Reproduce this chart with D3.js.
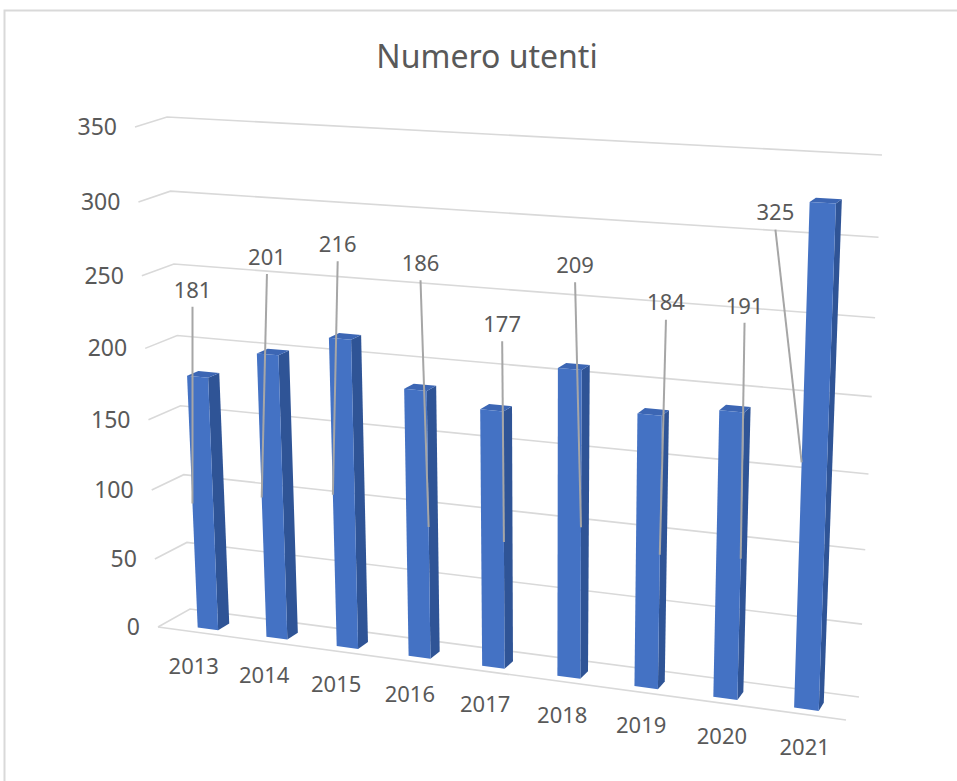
<!DOCTYPE html>
<html>
<head>
<meta charset="utf-8">
<script src="https://cdn.jsdelivr.net/npm/d3@7"></script>
<style>
  body { margin: 0; background: #fff; }
  text { font-family: "Noto Sans", "Open Sans", sans-serif; fill: #595959; }
</style>
</head>
<body>
<svg id="chart" width="957" height="781"></svg>
<script>
// data
const years = ["2013", "2014", "2015", "2016", "2017", "2018", "2019", "2020", "2021"]
const utenti = [181, 201, 216, 186, 177, 209, 184, 191, 325]
const yTicks = [0, 50, 100, 150, 200, 250, 300, 350]

// where the moved data labels sit (value level, px shift, leader side)
const labelLevel = [241, 267, 279, 270, 234, 276, 256, 258, 319]
const labelDx = [-1.5, 2.5, 0, 7, 11, 5, 15, 10.5, -47]
const leaderSide = ["l", "l", "l", "r", "r", "r", "r", "r", "l"]

const svg = d3.select("#chart")

// square -> quad homography
function quadMap(p) {
    let [x0, y0] = p[0], [x1, y1] = p[1], [x2, y2] = p[2], [x3, y3] = p[3]
    let sx = x0 - x1 + x2 - x3, sy = y0 - y1 + y2 - y3
    let dx1 = x1 - x2, dx2 = x3 - x2, dy1 = y1 - y2, dy2 = y3 - y2
    let den = dx1 * dy2 - dx2 * dy1
    let g = (sx * dy2 - dx2 * sy) / den
    let h = (dx1 * sy - sx * dy1) / den
    let a = x1 - x0 + g * x1, b = x3 - x0 + h * x3, c = x0
    let d = y1 - y0 + g * y1, e = y3 - y0 + h * y3, f = y0
    return function (u, v) {
        let q = g * u + h * v + 1
        return [(a * u + b * v + c) / q, (d * u + e * v + f) / q]
    }
}

// walls: bottom-left, bottom-right, top-right, top-left
const backWall = quadMap([[190, 609], [859, 697], [882, 155], [167, 117]])
const frontWall = quadMap([[158, 627], [846, 720], [866, 166], [135, 127]])

const y = d3.scaleLinear().domain([0, 350]).range([0, 1])
const x = d3.scaleBand().domain(years).range([0.02, 0.993]).paddingInner(0.7).paddingOuter(0.3)

function project(u, val, w) {
    let f = frontWall(u, y(val)), b = backWall(u, y(val))
    return [f[0] + (b[0] - f[0]) * w, f[1] + (b[1] - f[1]) * w]
}

// border
svg.append("rect")
    .attr("x", 4.5).attr("y", 10.5)
    .attr("width", 970).attr("height", 790)
    .attr("fill", "#fff")
    .attr("stroke", "#d9d9d9")
    .attr("stroke-width", 2)

// title
svg.append("text")
    .attr("x", 487).attr("y", 68)
    .attr("text-anchor", "middle")
    .style("font-size", "32px")
    .text("Numero utenti")

// gridlines: side wall + back wall
const grid = svg.append("g")
    .attr("fill", "none")
    .attr("stroke", "#d9d9d9")
    .attr("stroke-width", 1.6)

yTicks.forEach(t => {
    let pts = [project(0, t, 0), project(0, t, 1), project(1, t, 1)]
    grid.append("path").attr("d", d3.line()(pts))
})
// floor front edge
grid.append("path").attr("d", d3.line()([project(0, 0, 0), project(1, 0, 0)]))

// y axis labels
svg.append("g").selectAll("text")
    .data(yTicks)
    .enter()
    .append("text")
    .attr("x", d => project(0, d, 0)[0] - 18)
    .attr("y", d => project(0, d, 0)[1])
    .attr("dy", ".35em")
    .attr("text-anchor", "end")
    .style("font-size", "23px")
    .text(d => d)

// bars
const wf = 0.22, wb = 0.58
const bars = svg.append("g")
years.forEach((yr, i) => {
    let u0 = x(yr), u1 = x(yr) + x.bandwidth(), v = utenti[i]
    let poly = pts => pts.map(p => p.join(",")).join(" ")
    bars.append("polygon")
        .attr("points", poly([project(u1, 0, wf), project(u1, 0, wb), project(u1, v, wb), project(u1, v, wf)]))
        .attr("fill", "#2f5496")
    bars.append("polygon")
        .attr("points", poly([project(u0, v, wf), project(u1, v, wf), project(u1, v, wb), project(u0, v, wb)]))
        .attr("fill", "#3c66b4")
    bars.append("polygon")
        .attr("points", poly([project(u0, 0, wf), project(u1, 0, wf), project(u1, v, wf), project(u0, v, wf)]))
        .attr("fill", "#4472c4")
})

// category labels (a bit in front of the floor edge)
let catPos = d => {
    let uc = x(d) + x.bandwidth() / 2
    let p = project(uc, 0, 0)
    return [p[0] - 8 + 10 * uc, p[1] + 33]
}
svg.append("g").selectAll("text")
    .data(years)
    .enter()
    .append("text")
    .attr("x", d => catPos(d)[0])
    .attr("y", d => catPos(d)[1])
    .attr("dy", ".35em")
    .attr("text-anchor", "middle")
    .style("font-size", "22px")
    .text(d => d)

// data labels with leader lines
const labels = svg.append("g")
years.forEach((yr, i) => {
    let uc = x(yr) + x.bandwidth() / 2
    let p = project(uc, labelLevel[i], wf)
    let lx = p[0] + labelDx[i], ly = p[1]
    let uEnd = leaderSide[i] == "r" ? x(yr) + x.bandwidth() : x(yr)
    let end = project(uEnd, utenti[i] / 2, wf)
    labels.append("line")
        .attr("x1", lx).attr("y1", ly + 17)
        .attr("x2", end[0]).attr("y2", end[1])
        .attr("stroke", "#a6a6a6")
        .attr("stroke-width", 2)
    labels.append("text")
        .attr("x", lx).attr("y", ly)
        .attr("dy", ".35em")
        .attr("text-anchor", "middle")
        .style("font-size", "22px")
        .text(utenti[i])
})
</script>
</body>
</html>
